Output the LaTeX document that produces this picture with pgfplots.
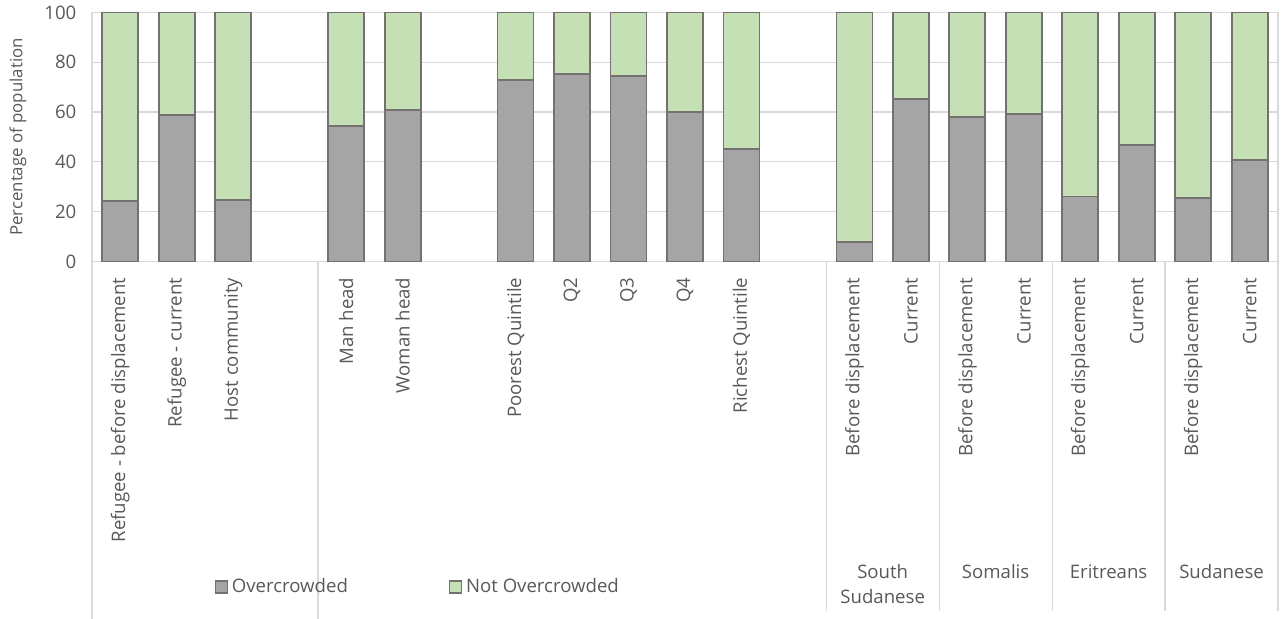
\documentclass[border=0pt]{standalone}
\usepackage{fontspec}
\setmainfont{Open Sans}
\usepackage{pgfplots}
\pgfplotsset{compat=1.18}
\definecolor{ocgray}{HTML}{A5A5A5}
\definecolor{ocgreen}{HTML}{C5E0B4}
\definecolor{edgec}{HTML}{767171}
\definecolor{gridc}{HTML}{D9D9D9}
\definecolor{txt}{HTML}{595959}
\pgfplotsset{mylegend/.style={legend image code/.code={\draw[##1,line width=0.6pt] (0pt,-3pt) rectangle (6pt,3pt);}}}
\begin{document}
\begin{tikzpicture}[font=\fontsize{9.3}{11.3}\selectfont]
\useasboundingbox (-46pt,-178.75pt) rectangle (595.5pt,130.75pt);
\begin{axis}[
  at={(0,0)}, anchor=south west, scale only axis,
  width=593pt, height=124.5pt,
  ybar stacked, bar width=18pt,
  xmin=-0.5, xmax=20.5, ymin=0, ymax=100,
  ytick={0,20,...,100},
  xtick={0,1,2,4,5,7,8,9,10,11,13,14,15,16,17,18,19,20},
  xticklabels={Refugee - before displacement, Refugee - current, Host community, Man head, Woman head, Poorest Quintile, Q2, Q3, Q4, Richest Quintile, Before displacement, Current, Before displacement, Current, Before displacement, Current, Before displacement, Current},
  major tick length=0pt,
  /pgf/number format/assume math mode=true,
  x tick label style={rotate=90, anchor=east, text=txt},
  xticklabel shift=4.6pt,
  y tick label style={text=txt},
  yticklabel shift=4.3pt,
  ymajorgrids, grid style={gridc, line width=0.6pt},
  axis line style={gridc, line width=0.6pt},
  ylabel={Percentage of population},
  ylabel style={at={(axis description cs:-0.0624,0.5)}, anchor=center, text=txt, font=\fontsize{8.4}{10}\selectfont},
  legend columns=2,
  legend style={at={(0.2755,-1.307)}, anchor=center, draw=none, fill=none, text=txt,
    /tikz/every even column/.append style={column sep=48.5pt}},
  clip=false,
]
\addplot[fill=ocgray, draw=edgec, line width=0.9pt, mylegend] coordinates {
 (0,24.3) (1,58.7) (2,24.6) (4,54.3) (5,60.9) (7,72.8) (8,75.2) (9,74.5) (10,60.1) (11,45.1)
 (13,7.9) (14,65.2) (15,57.9) (16,59.2) (17,26.1) (18,46.8) (19,25.6) (20,40.8)};
\addplot[fill=ocgreen, draw=edgec, line width=0.9pt, mylegend] coordinates {
 (0,75.7) (1,41.3) (2,75.4) (4,45.7) (5,39.1) (7,27.2) (8,24.8) (9,25.5) (10,39.9) (11,54.9)
 (13,92.1) (14,34.8) (15,42.1) (16,40.8) (17,73.9) (18,53.2) (19,74.4) (20,59.2)};
\legend{Overcrowded, Not Overcrowded}
\draw[gridc, line width=0.6pt] (axis cs:-0.5,0) -- (axis cs:-0.5,-143.6);
\draw[gridc, line width=0.6pt] (axis cs:3.5,0) -- (axis cs:3.5,-143.6);
\draw[gridc, line width=0.6pt] (axis cs:12.5,0) -- (axis cs:12.5,-140.4);
\draw[gridc, line width=0.6pt] (axis cs:14.5,0) -- (axis cs:14.5,-140.4);
\draw[gridc, line width=0.6pt] (axis cs:16.5,0) -- (axis cs:16.5,-140.4);
\draw[gridc, line width=0.6pt] (axis cs:18.5,0) -- (axis cs:18.5,-140.4);
\draw[gridc, line width=0.6pt] (axis cs:20.5,0) -- (axis cs:20.5,-140.4);
\node[anchor=north, align=center, text=txt, font=\fontsize{9.3}{12.5}\selectfont] at (axis cs:13.5,-118.8) {South\\Sudanese};
\node[anchor=north, text=txt] at (axis cs:15.5,-118.8) {Somalis};
\node[anchor=north, text=txt] at (axis cs:17.5,-118.8) {Eritreans};
\node[anchor=north, text=txt] at (axis cs:19.5,-118.8) {Sudanese};
\end{axis}
\end{tikzpicture}
\end{document}
